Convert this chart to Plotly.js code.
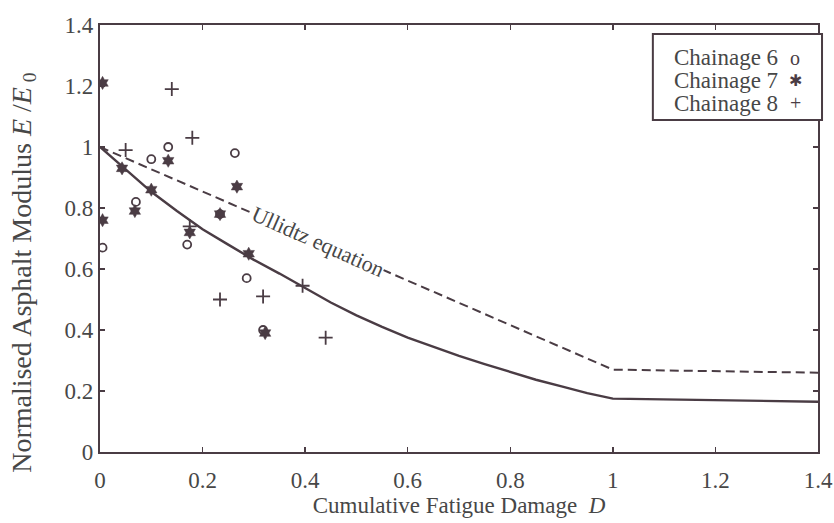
<!DOCTYPE html>
<html>
<head>
<meta charset="utf-8">
<script src="https://cdn.plot.ly/plotly-3.0.1.min.js"></script>
<style>html,body{margin:0;padding:0;background:#fff;}#chart{width:834px;height:523px;}</style>
</head>
<body>
<div id="chart"></div>
<script>
// Fitted (solid) curve
const fitD = [0, 0.05, 0.1, 0.15, 0.2, 0.25, 0.3, 0.35, 0.4, 0.45, 0.5, 0.55, 0.6, 0.65, 0.7, 0.75, 0.8, 0.85, 0.9, 0.95, 1.0, 1.4];
const fitE = [1.0, 0.925, 0.853, 0.79, 0.73, 0.68, 0.63, 0.585, 0.537, 0.49, 0.448, 0.41, 0.375, 0.344, 0.315, 0.288, 0.262, 0.237, 0.215, 0.193, 0.175, 0.165];
// Ullidtz equation (dashed)
const ullD = [0, 1.0, 1.4];
const ullE = [1.0, 0.27, 0.26];
// Chainage 6 (circles)
const ch6D = [0.005, 0.07, 0.10, 0.133, 0.17, 0.234, 0.263, 0.286, 0.318];
const ch6E = [0.67, 0.82, 0.96, 1.0, 0.68, 0.78, 0.98, 0.57, 0.40];
// Chainage 7 (stars)
const ch7D = [0.005, 0.005, 0.043, 0.068, 0.10, 0.133, 0.175, 0.234, 0.267, 0.29, 0.322];
const ch7E = [1.21, 0.76, 0.93, 0.79, 0.86, 0.955, 0.72, 0.78, 0.87, 0.65, 0.39];
// Chainage 8 (plus)
const ch8D = [0.05, 0.14, 0.18, 0.175, 0.234, 0.318, 0.395, 0.44];
const ch8E = [0.99, 1.19, 1.03, 0.74, 0.50, 0.51, 0.545, 0.375];
// Legend labels and glyphs
const legendLabels = ['Chainage 6', 'Chainage 7', 'Chainage 8'];
const legendGlyphs = ['o', '✱', '+'];

const ink = '#4a3c44';
const txt = '#474747';
const serif = 'Liberation Serif';

const traces = [
  {x: fitD, y: fitE, mode: 'lines', line: {color: ink, width: 2.4}, showlegend: false, hoverinfo: 'skip'},
  {x: ullD, y: ullE, mode: 'lines', line: {color: ink, width: 2, dash: '9px,5px'}, showlegend: false, hoverinfo: 'skip'},
  {x: ch6D, y: ch6E, mode: 'markers', name: legendLabels[0],
   marker: {symbol: 'circle-open', size: 8, color: ink, line: {width: 1.8, color: ink}}, showlegend: false},
  {x: ch7D, y: ch7E, mode: 'markers', name: legendLabels[1],
   marker: {symbol: 'hexagram', size: 10, color: ink, line: {width: 0.5, color: ink}}, showlegend: false},
  {x: ch8D, y: ch8E, mode: 'markers', name: legendLabels[2],
   marker: {symbol: 'cross-thin-open', size: 10, color: ink, line: {width: 1.8, color: ink}}, showlegend: false}
];

const axisCommon = {
  showline: true, linecolor: ink, linewidth: 2.2, mirror: 'ticks',
  ticks: 'inside', ticklen: 5, tickwidth: 1.5, tickcolor: ink,
  showgrid: false, zeroline: false,
  tickfont: {family: serif, size: 23, color: txt}
};

const legendRowsY = [0.923, 0.869, 0.817];
const annotations = [
  {x: 0.425, y: 0.69, xref: 'x', yref: 'y', text: 'Ullidtz equation', showarrow: false,
   textangle: 24, bgcolor: '#ffffff', borderpad: 0, font: {family: serif, size: 22, color: txt}},
  {x: -0.107, y: 0.42, xref: 'paper', yref: 'paper', xanchor: 'center', yanchor: 'middle',
   text: 'Normalised Asphalt Modulus <i>E</i> /<i>E</i><sub> 0</sub>', textangle: -90, showarrow: false,
   font: {family: serif, size: 28, color: txt}}
];
legendLabels.forEach((lab, i) => {
  annotations.push({x: 0.797, y: legendRowsY[i], xref: 'paper', yref: 'paper', xanchor: 'left', yanchor: 'middle',
    text: lab, showarrow: false, font: {family: serif, size: 23, color: txt}});
  annotations.push({x: 0.968, y: legendRowsY[i], xref: 'paper', yref: 'paper', xanchor: 'center', yanchor: 'middle',
    text: legendGlyphs[i], showarrow: false, font: {family: serif, size: i === 1 ? 16 : 20, color: ink}});
});

const layout = {
  width: 834, height: 523,
  margin: {l: 100, r: 16, t: 25, b: 71},
  paper_bgcolor: '#ffffff', plot_bgcolor: '#ffffff',
  font: {family: serif, color: txt},
  xaxis: Object.assign({}, axisCommon, {
    range: [0, 1.4], dtick: 0.2, tick0: 0, ticklabelstandoff: 6,
    title: {text: 'Cumulative Fatigue Damage  <i>D</i>', font: {family: serif, size: 23, color: txt}, standoff: 2}
  }),
  yaxis: Object.assign({}, axisCommon, {
    range: [0, 1.4], dtick: 0.2, tick0: 0
  }),
  shapes: [
    {type: 'rect', xref: 'paper', yref: 'paper', x0: 0.770, x1: 1.0056, y0: 0.7775, y1: 0.979,
     line: {color: ink, width: 2}, fillcolor: '#ffffff', layer: 'above'}
  ],
  annotations: annotations
};

Plotly.newPlot('chart', traces, layout, {displayModeBar: false, staticPlot: true});
</script>
</body>
</html>
